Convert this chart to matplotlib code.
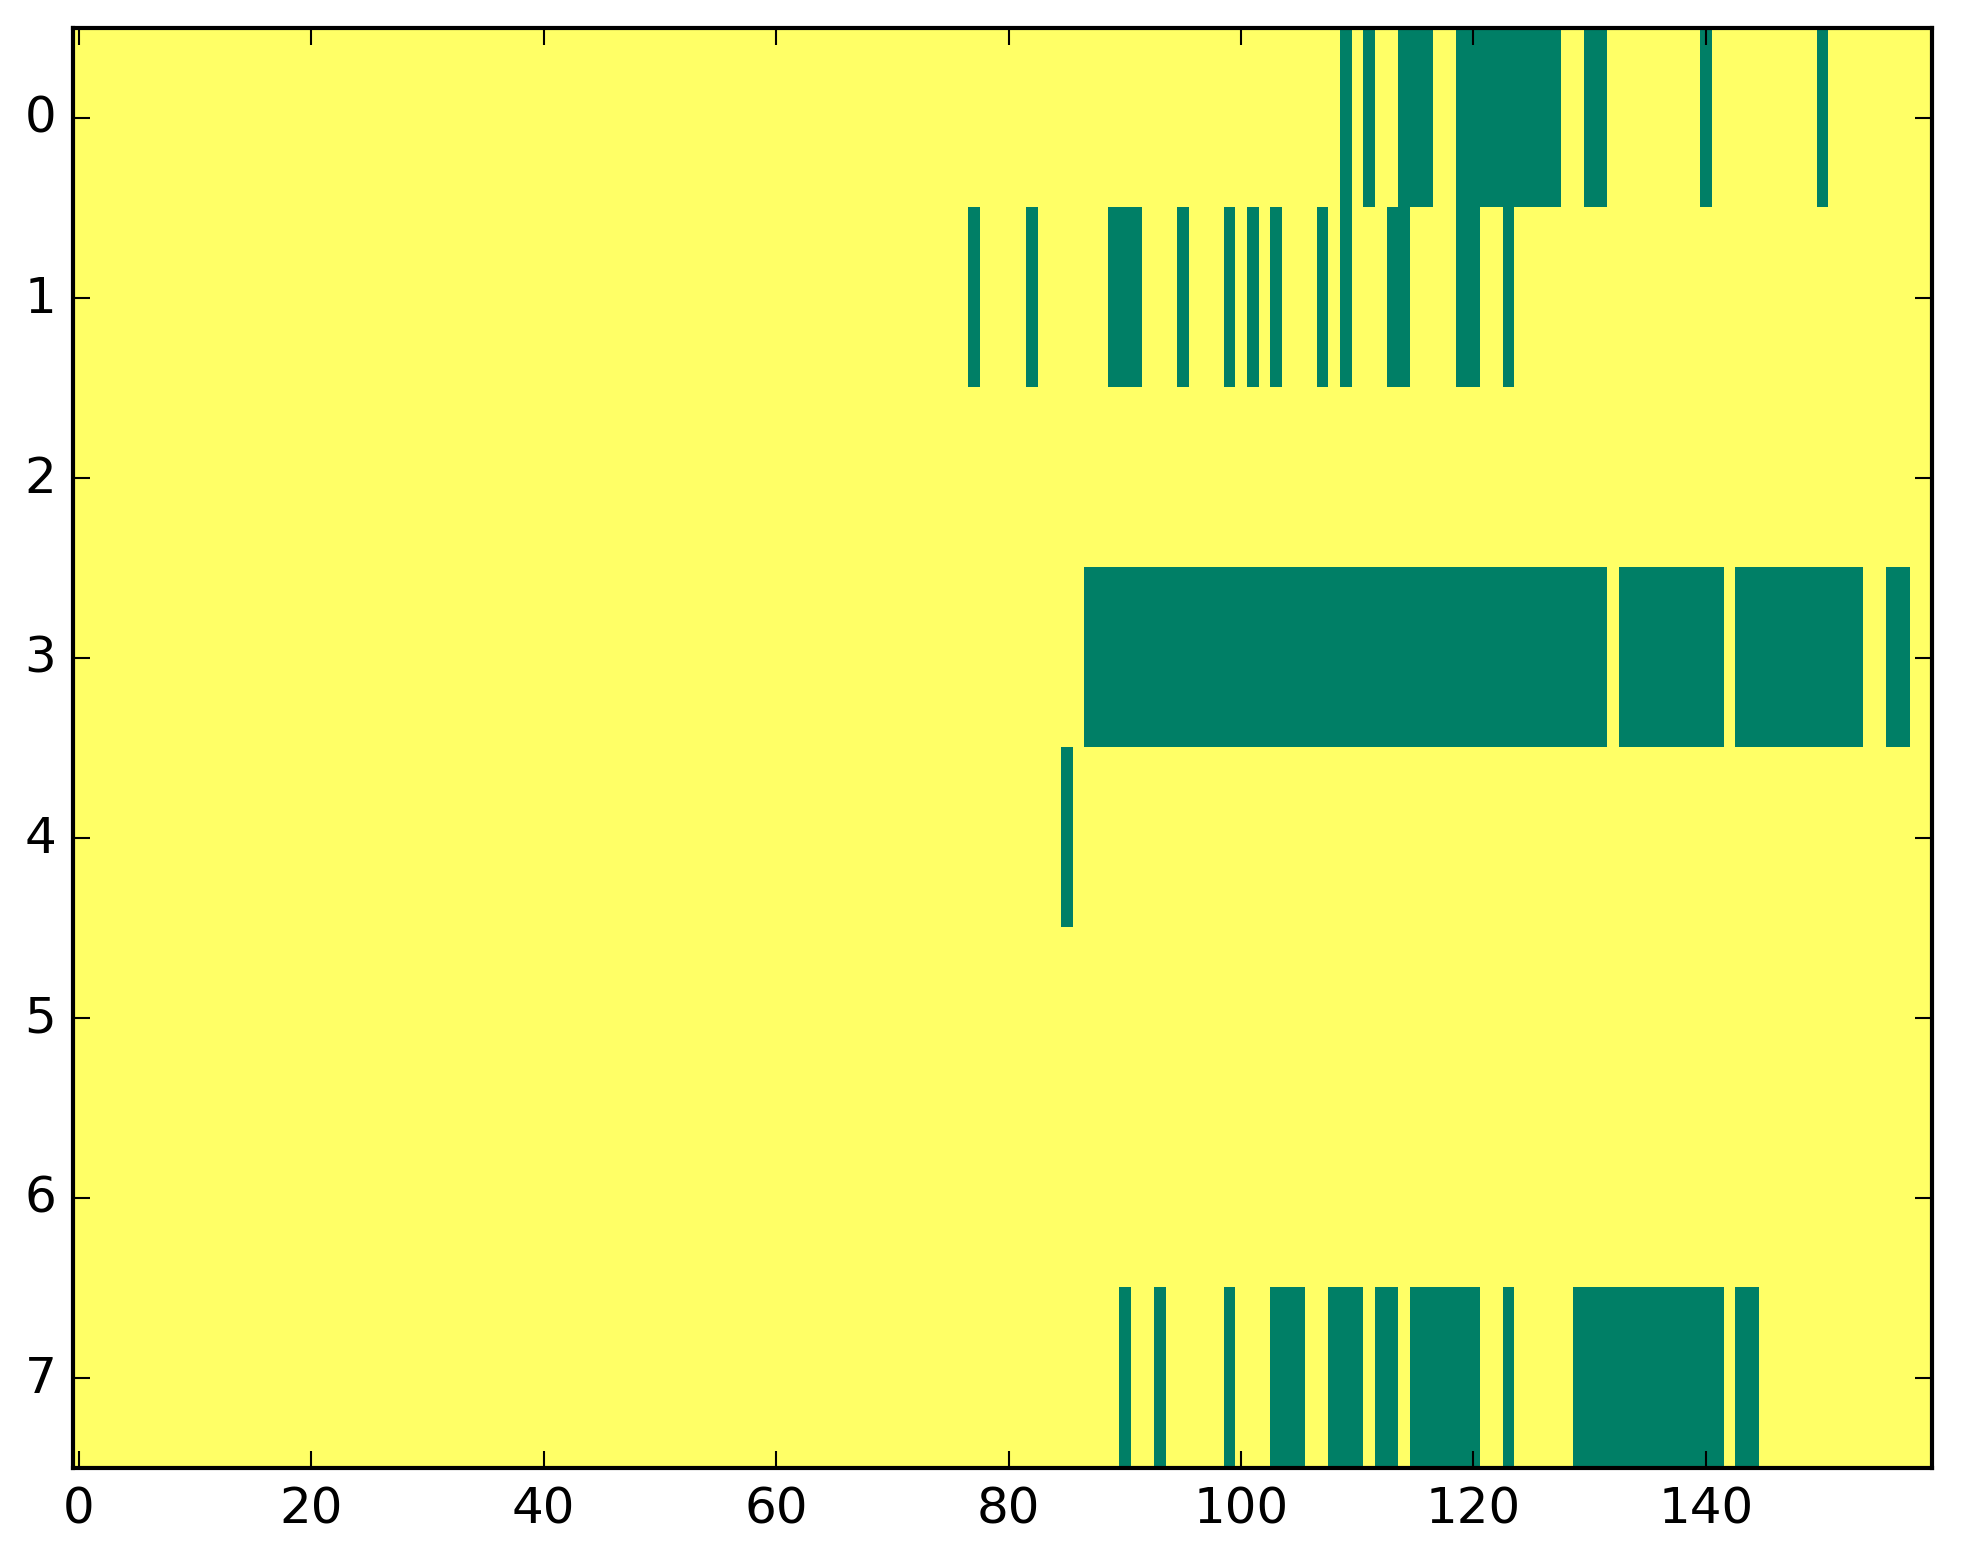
import numpy as np
import matplotlib
matplotlib.use("Agg")
import matplotlib.pyplot as plt

plt.style.use("classic")

n_rows = 8
n_cols = 160

# columns that are 0 (green) in each row; everything else is 1 (yellow)
row0_zeros = [109, 111, 114, 115, 116] + list(range(119, 128)) + [130, 131, 140, 150]
row1_zeros = [77, 82, 89, 90, 91, 95, 99, 101, 103, 107, 109, 113, 114, 119, 120, 123]
row2_zeros = []
row3_zeros = list(range(87, 132)) + list(range(133, 142)) + list(range(143, 154)) + [156, 157]
row4_zeros = [85]
row5_zeros = []
row6_zeros = []
row7_zeros = [90, 93, 99, 103, 104, 105, 108, 109, 110, 112, 113] + list(range(115, 121)) + [123] + list(range(129, 142)) + [143, 144]

zeros = [row0_zeros, row1_zeros, row2_zeros, row3_zeros,
         row4_zeros, row5_zeros, row6_zeros, row7_zeros]

data = np.ones((n_rows, n_cols))
for r, cols in enumerate(zeros):
    data[r, cols] = 0

fig = plt.figure(figsize=(1963 / 300, 1564 / 300), dpi=300, facecolor="white")
ax = fig.add_axes([73 / 1963, 1 - 1468.5 / 1564, (1932.5 - 73) / 1963, (1468.5 - 29) / 1564])
ax.imshow(data, cmap="summer", aspect="auto", interpolation="nearest", vmin=0, vmax=1)
ax.set_xticks(range(0, 160, 20))
ax.set_yticks(range(8))

fig.savefig("out.png", dpi=300, facecolor="white")
